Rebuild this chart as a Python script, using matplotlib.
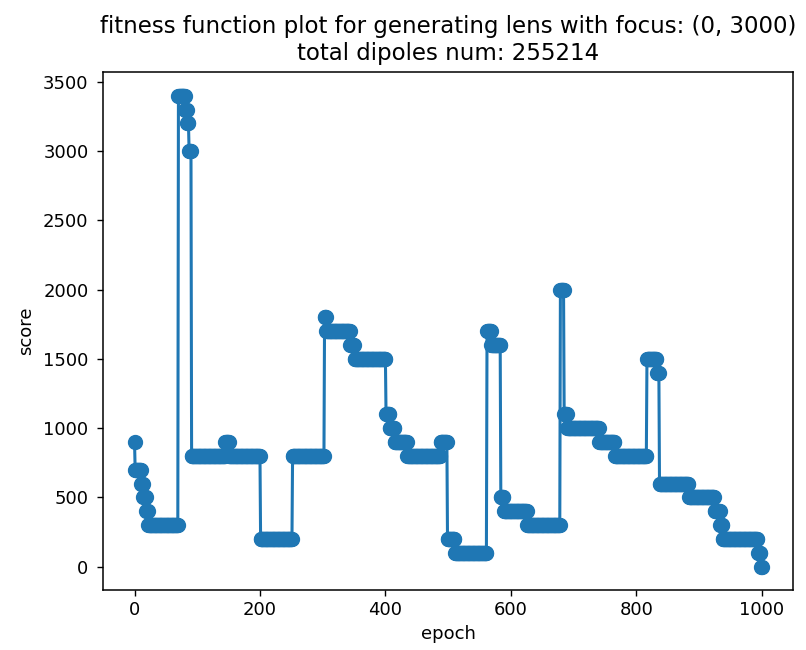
import numpy as np
import matplotlib
matplotlib.use("Agg")
import matplotlib.pyplot as plt

# score level held over each stretch of epochs (start epoch of every stretch)
run_starts = [0, 1, 11, 14, 19, 22, 70, 81, 84, 87, 91, 145, 151, 201, 252,
              303, 306, 344, 351, 401, 407, 415, 435, 488, 499, 511, 562, 569,
              584, 589, 626, 679, 685, 690, 741, 766, 817, 833, 837, 884, 925,
              934, 938, 994, 999]
run_scores = [900, 700, 600, 500, 400, 300, 3400, 3300, 3200, 3000, 800, 900,
              800, 200, 800, 1800, 1700, 1600, 1500, 1100, 1000, 900, 800, 900,
              200, 100, 1700, 1600, 500, 400, 300, 2000, 1100, 1000, 900, 800,
              1500, 1400, 600, 500, 400, 300, 200, 100, 0]
last_epoch = 1000

focus = (0, 3000)
dipoles_num = 255214

epochs = np.arange(last_epoch + 1)
lengths = np.diff(run_starts + [last_epoch + 1])
scores = np.repeat(run_scores, lengths)

plt.rcParams['font.family'] = ['DejaVu Sans']

fig = plt.figure(figsize=(8.06, 6.5), dpi=100)
ax = fig.add_axes([0.128, 0.092, 0.856, 0.797])
ax.plot(epochs, scores, marker='o', markersize=10, linewidth=2.2, color='#1f77b4')

ax.set_title(f"fitness function plot for generating lens with focus: {focus}\n"
             f"total dipoles num: {dipoles_num}", fontsize=16.5, pad=9)
ax.set_xlabel('epoch', fontsize=13)
ax.set_ylabel('score', fontsize=13, labelpad=6)
ax.set_xticks([0, 200, 400, 600, 800, 1000])
ax.set_yticks(np.arange(0, 3501, 500))
ax.tick_params(labelsize=13, length=4.5, width=1)
ax.tick_params(axis='y', pad=6)
for s in ax.spines.values():
    s.set_linewidth(1.1)

fig.savefig('out.png', dpi=100)
